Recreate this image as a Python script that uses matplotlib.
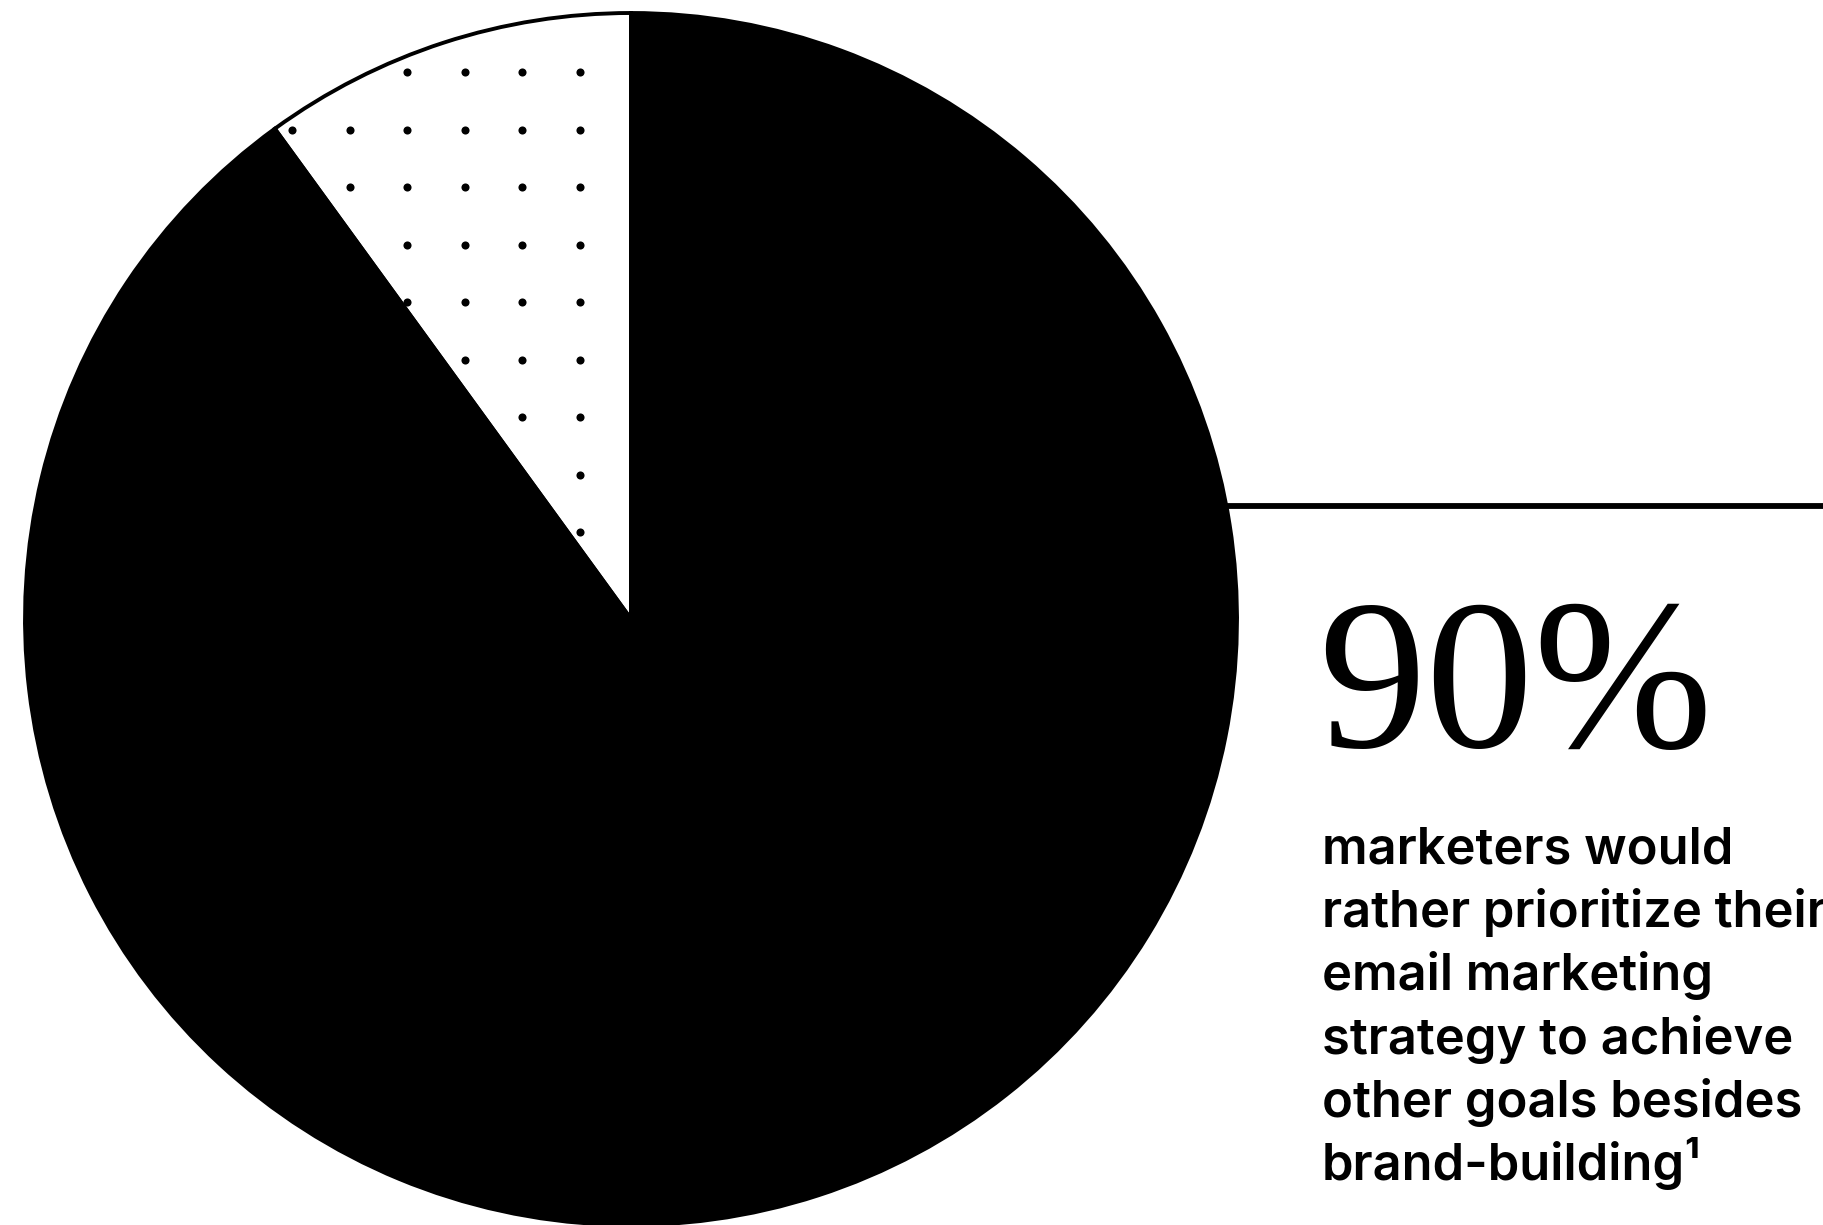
import matplotlib

matplotlib.use("Agg")
import matplotlib.pyplot as plt
import numpy as np

# Share of marketers: other goals vs. brand-building only
shares = [10, 90]
slice_colors = ["white", "black"]

headline = "90%"
caption_lines = [
    "marketers would",
    "rather prioritize their",
    "email marketing",
    "strategy to achieve",
    "other goals besides",
    "brand-building\u00b9",
]

W, H = 1823, 1225
fig = plt.figure(figsize=(W / 100, H / 100), dpi=100)
ax = fig.add_axes([0, 0, 1, 1])

# Pie, in pixel-like data units (y up)
cx, cy, r = 631, H - 619, 606
wedges, _ = ax.pie(
    shares,
    colors=slice_colors,
    startangle=90,
    counterclock=True,
    center=(cx, cy),
    radius=r,
    wedgeprops={"edgecolor": "black", "linewidth": 2.8},
    frame=True,
)

# Dot pattern inside the small slice, drawn under the black slice
step = 57.5
gx = 292 + step * np.arange(-2, 8)
gy = (H - 72) - step * np.arange(0, 10)
xx, yy = np.meshgrid(gx, gy)
dots = ax.scatter(xx.ravel(), yy.ravel(), s=34, color="black", zorder=0.5, lw=0)
dots.set_clip_path(wedges[0])
wedges[0].set_zorder(0.2)
wedges[1].set_zorder(1)

# Leader line from the pie to the right edge
ax.plot([cx + r - 20, W + 5], [H - 506, H - 506], color="black", lw=4.2,
        solid_capstyle="butt", zorder=0.4)

# Big figure
ax.text(1318, H - 747, headline, fontsize=155, family="Liberation Serif",
        ha="left", va="baseline", color="black")

# Caption
base = 864
for i, line in enumerate(caption_lines):
    ax.text(1322, H - (base + 63.2 * i), line, fontsize=36.5, family="Inter",
            fontweight="semibold", ha="left", va="baseline", color="black")

ax.set_xlim(0, W)
ax.set_ylim(0, H)
ax.set_aspect("auto")
ax.axis("off")

fig.savefig("out.png", dpi=100, facecolor="white")
